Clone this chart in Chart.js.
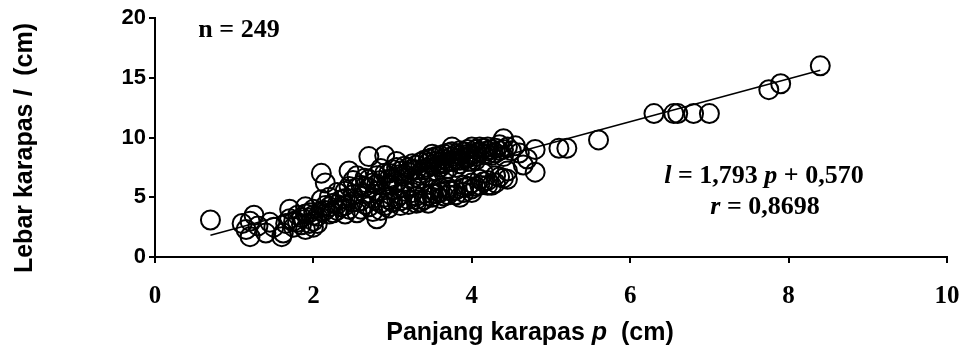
<!DOCTYPE html>
<html>
<head>
<meta charset="utf-8">
<script src="https://cdn.jsdelivr.net/npm/chart.js@4.4.1/dist/chart.umd.min.js"></script>
<style>
  html, body { margin: 0; padding: 0; background: #fff; }
  #wrap { width: 962px; height: 350px; }
</style>
</head>
<body>
<div id="wrap"><canvas id="chart" width="962" height="350"></canvas></div>
<script>
// carapace length p (cm)
const panjang = [
  0.7, 1.1, 1.15, 1.2, 1.2, 1.25, 1.3, 1.4, 1.45, 1.5, 1.6, 1.62, 1.65, 1.7, 1.7, 1.75, 1.8, 1.8, 1.85, 1.9, 1.9, 1.95, 1.95, 2.0, 2.0, 2.0,
  2.05, 2.1, 2.15, 2.1, 2.1, 2.15, 2.2, 2.2, 2.25, 2.3, 2.3, 2.35, 2.4, 2.4, 2.4, 2.45, 2.45, 2.5, 2.5, 2.5, 2.55, 2.55,
  2.6, 2.6, 2.65, 2.65, 2.7, 2.7, 2.7, 2.75, 2.75, 2.8, 2.8, 2.8, 2.85, 2.85, 2.9, 2.9, 2.9, 2.95, 2.95, 3.0, 3.0, 3.0, 3.0, 3.05, 3.05,
  3.1, 3.1, 3.1, 3.15, 3.15, 3.2, 3.2, 3.2, 3.25, 3.25, 3.3, 3.3, 3.3, 3.35, 3.35, 3.4, 3.4, 3.4, 3.45, 3.45, 3.5, 3.5, 3.5, 3.5,
  3.55, 3.55, 3.6, 3.6, 3.6, 3.65, 3.65, 3.7, 3.7, 3.7, 3.75, 3.75, 3.8, 3.8, 3.8, 3.85, 3.85, 3.9, 3.9, 3.9, 3.95, 3.95, 4.0, 4.0, 4.0,
  4.05, 4.05, 4.1, 4.1, 4.15, 4.15, 4.2, 4.2, 4.25, 4.3, 4.3, 4.35, 4.4, 4.4, 4.4, 4.45, 4.45,
  4.55, 4.6, 4.65, 4.7, 4.8, 4.8, 5.1, 5.2, 5.6, 6.3, 6.55, 6.6, 6.8, 7.0, 7.75, 7.9, 8.4,
  2.55, 2.65, 2.85, 2.95, 3.05, 3.15, 3.25, 3.35, 3.45, 3.55, 3.65, 3.75, 3.85, 3.95, 4.05, 4.2, 4.35, 3.6, 3.3, 3.0,
  2.6, 2.9, 3.05, 3.25, 3.45, 3.55, 3.75, 3.95, 4.15, 4.25, 4.35, 3.35, 2.45, 2.3,
  3.3, 3.4, 3.45, 3.5, 3.55, 3.6, 3.65, 3.7, 3.7, 3.75, 3.8, 3.85, 3.85, 3.9, 3.95, 4.0, 4.0, 4.05, 4.1, 4.15,
  4.2, 4.25, 4.3, 4.4, 4.5, 3.2, 3.1, 2.95, 2.8, 2.7,
  2.65, 2.75, 2.85, 2.95, 3.1, 3.15, 3.3, 3.45, 3.5, 3.65, 3.7, 3.8, 3.9, 4.05, 4.1, 4.2, 4.3, 4.45, 4.0, 3.6,
  1.75, 1.85, 1.9, 2.0, 2.05, 2.15, 2.2, 2.25, 2.35, 2.4
];
// carapace width l (cm)
const lebar = [
  3.1, 2.8, 2.3, 1.7, 3.0, 3.5, 2.6, 2.0, 2.9, 2.5, 1.7, 2.0, 2.8, 3.2, 4.0, 2.5, 3.5, 2.9, 3.3, 4.2, 2.3, 2.8, 3.7, 3.0, 2.5, 4.0,
  3.4, 7.0, 6.2, 4.8, 3.8, 4.3, 3.6, 5.0, 4.5, 5.4, 3.9, 4.8, 3.6, 5.5, 4.3, 5.9, 7.2, 6.4, 4.6, 5.2, 3.7, 5.8,
  6.0, 4.7, 5.3, 6.6, 8.4, 5.8, 4.2, 6.2, 3.8, 3.2, 5.5, 6.8, 4.5, 6.4, 8.5, 7.0, 5.0, 6.0, 4.1, 7.3, 6.6, 4.6, 5.6, 8.0, 7.5,
  6.9, 4.3, 5.2, 7.6, 6.2, 7.1, 4.8, 4.4, 7.8, 6.6, 7.3, 5.1, 4.5, 7.0, 7.9, 8.1, 5.3, 4.8, 7.5, 6.8, 8.3, 7.7, 5.0, 5.6,
  8.0, 7.2, 8.5, 5.4, 4.9, 7.8, 8.2, 8.7, 5.8, 5.2, 9.2, 8.0, 8.6, 7.5, 5.6, 5.0, 8.9, 8.3, 6.0, 5.4, 9.0, 8.6, 8.0, 6.2, 5.7,
  9.0, 8.4, 8.8, 6.0, 9.1, 7.0, 8.6, 6.4, 9.0, 8.7, 6.8, 8.9, 9.9, 6.6, 8.4, 9.2, 7.2,
  9.3, 8.7, 7.7, 8.2, 9.0, 7.1, 9.1, 9.1, 9.8, 12.0, 12.0, 12.0, 12.0, 12.0, 14.0, 14.5, 16.0,
  6.8, 5.9, 7.4, 6.5, 6.3, 6.9, 7.3, 6.5, 8.2, 7.6, 7.0, 8.4, 8.1, 8.0, 8.7, 9.2, 9.4, 7.5, 6.2, 6.0,
  4.0, 4.3, 4.9, 5.4, 5.1, 5.3, 5.5, 5.9, 6.3, 6.0, 6.7, 4.6, 4.0, 4.4,
  7.7, 7.3, 7.9, 8.6, 8.4, 7.9, 8.6, 8.0, 7.4, 8.8, 8.2, 7.8, 8.5, 8.8, 8.3, 8.6, 9.2, 8.1, 9.2, 8.6,
  8.9, 8.5, 9.1, 9.0, 8.9, 7.5, 7.2, 7.0, 6.1, 6.5,
  4.4, 4.9, 3.9, 4.8, 4.7, 5.5, 4.8, 4.5, 5.3, 5.1, 5.6, 5.2, 5.8, 5.9, 6.5, 6.0, 6.2, 6.5, 5.4, 5.8,
  3.0, 2.7, 3.6, 3.5, 2.8, 3.9, 4.2, 3.7, 4.2, 4.9
];

// regression l = a p + b, drawn over the observed p range
const slope = 1.793;
const intercept = 0.570;
const fitRange = [0.7, 8.4];

const xTicks = [0, 2, 4, 6, 8, 10];
const yTicks = [0, 5, 10, 15, 20];

const SERIF = "'Liberation Serif', 'Times New Roman', serif";
const SANS = "'Liberation Sans', Arial, sans-serif";

const points = panjang.map((p, i) => ({ x: p, y: lebar[i] }));
const fitLine = fitRange.map(p => ({ x: p, y: slope * p + intercept }));

// draws a row of [text, font] pieces, centred on cx
function drawPieces(ctx, pieces, cx, cy) {
  let total = 0;
  pieces.forEach(pc => { ctx.font = pc[1]; total += ctx.measureText(pc[0]).width; });
  let x = cx - total / 2;
  pieces.forEach(pc => {
    ctx.font = pc[1];
    ctx.fillText(pc[0], x, cy);
    x += ctx.measureText(pc[0]).width;
  });
}

const textPlugin = {
  id: 'texts',
  afterDraw(chart) {
    const ctx = chart.ctx;
    ctx.save();
    ctx.fillStyle = '#000';
    ctx.textBaseline = 'middle';
    ctx.textAlign = 'left';

    const bs = 'bold 25px ' + SANS;
    const bis = 'italic bold 25px ' + SANS;
    drawPieces(ctx, [['Panjang karapas ', bs], ['p', bis], ['  (cm)', bs]], 530, 333);

    ctx.save();
    ctx.translate(25, 148);
    ctx.rotate(-Math.PI / 2);
    drawPieces(ctx, [['Lebar karapas ', bs], ['l', bis], ['  (cm)', bs]], 0, 0);
    ctx.restore();

    const b = 'bold 26px ' + SERIF;
    const bi = 'italic bold 26px ' + SERIF;
    drawPieces(ctx, [['n = 249', b]], 239, 30);
    drawPieces(ctx, [['l', bi], [' = 1,793 ', b], ['p', bi], [' + 0,570', b]], 764, 176);
    drawPieces(ctx, [['r', bi], [' = 0,8698', b]], 765, 207);
    ctx.restore();
  }
};

new Chart(document.getElementById('chart'), {
  type: 'scatter',
  data: {
    datasets: [
      {
        type: 'line',
        data: fitLine,
        borderColor: '#000',
        borderWidth: 1.6,
        pointRadius: 0,
        fill: false,
        order: 1
      },
      {
        data: points,
        pointStyle: 'circle',
        pointRadius: 9.5,
        pointBorderWidth: 2,
        pointBorderColor: '#000',
        pointBackgroundColor: 'rgba(0,0,0,0)',
        order: 2
      }
    ]
  },
  options: {
    responsive: false,
    animation: false,
    layout: { padding: { top: 18, right: 15, left: 0, bottom: 0 } },
    plugins: {
      legend: { display: false },
      tooltip: { enabled: false }
    },
    scales: {
      x: {
        type: 'linear',
        min: 0,
        max: 10,
        afterFit: s => { s.height = 93; s.paddingLeft = 0; s.paddingRight = 0; },
        afterBuildTicks: s => { s.ticks = xTicks.map(v => ({ value: v })); },
        border: { color: '#000', width: 2 },
        grid: { drawOnChartArea: false, color: '#000', lineWidth: 2, tickLength: 6 },
        ticks: { color: '#000', padding: 19, font: { family: SERIF, size: 25, weight: 'bold' } }
      },
      y: {
        type: 'linear',
        min: 0,
        max: 20,
        afterFit: s => { s.width = 155; s.paddingTop = 0; s.paddingBottom = 0; },
        afterBuildTicks: s => { s.ticks = yTicks.map(v => ({ value: v })); },
        border: { color: '#000', width: 2 },
        grid: { drawOnChartArea: false, color: '#000', lineWidth: 2, tickLength: 6 },
        ticks: { color: '#000', padding: 3, font: { family: SANS, size: 22, weight: 'bold' } }
      }
    }
  },
  plugins: [textPlugin]
});
</script>
</body>
</html>
